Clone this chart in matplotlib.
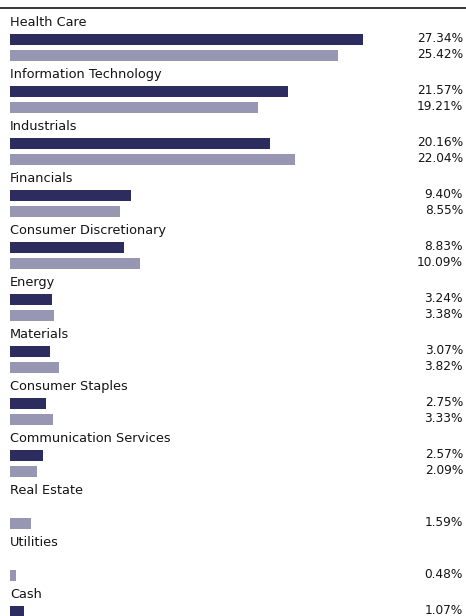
import matplotlib
matplotlib.use("Agg")
import matplotlib.pyplot as plt
from matplotlib.transforms import offset_copy

# sector weights, fund (dark) vs. comparison (light); None = no bar
SECTORS = ["Health Care", "Information Technology", "Industrials", "Financials",
           "Consumer Discretionary", "Energy", "Materials", "Consumer Staples",
           "Communication Services", "Real Estate", "Utilities", "Cash"]
FUND = [27.34, 21.57, 20.16, 9.40, 8.83, 3.24, 3.07, 2.75, 2.57, None, None, 1.07]
BENCH = [25.42, 19.21, 22.04, 8.55, 10.09, 3.38, 3.82, 3.33, 2.09, 1.59, 0.48, None]

DARK = "#2c2c5e"
LIGHT = "#9797b3"
INK = "#141414"

W, H = 466, 616
PX_PER_PCT = 12.91
PITCH = 52.0     # px per sector group
LABEL_Y = 23.0   # px of first label centre
BAR_H = 11.0 / PITCH
OFF_DARK = 16.5 / PITCH
OFF_LIGHT = 32.5 / PITCH

fig = plt.figure(figsize=(W / 100, H / 100), dpi=100)
ax = fig.add_axes([0, 0, 1, 1])
ax.set_xlim(-10 / PX_PER_PCT, (W - 10) / PX_PER_PCT)
ax.set_ylim((H - LABEL_Y) / PITCH, -LABEL_Y / PITCH)
ax.axis("off")

val_tr = offset_copy(ax.get_yaxis_transform(), fig=fig, x=0, y=1, units="dots")

for i, name in enumerate(SECTORS):
    ax.text(0, i, name, ha="left", va="center", fontsize=9.3, color=INK)
    for val, off, col in ((FUND[i], OFF_DARK, DARK), (BENCH[i], OFF_LIGHT, LIGHT)):
        if val is None:
            continue
        ax.barh(i + off, val, height=BAR_H, left=0, color=col, linewidth=0)
        ax.text(1 - 3 / W, i + off, f"{val:.2f}%", ha="right", va="center",
                fontsize=8.7, color=INK, transform=val_tr)

# rule across the top
ax.plot([0, 1], [1 - 7.5 / H] * 2, color="black", linewidth=1.1,
        transform=ax.transAxes, clip_on=False)

fig.savefig("out.png", dpi=100, facecolor="white")
